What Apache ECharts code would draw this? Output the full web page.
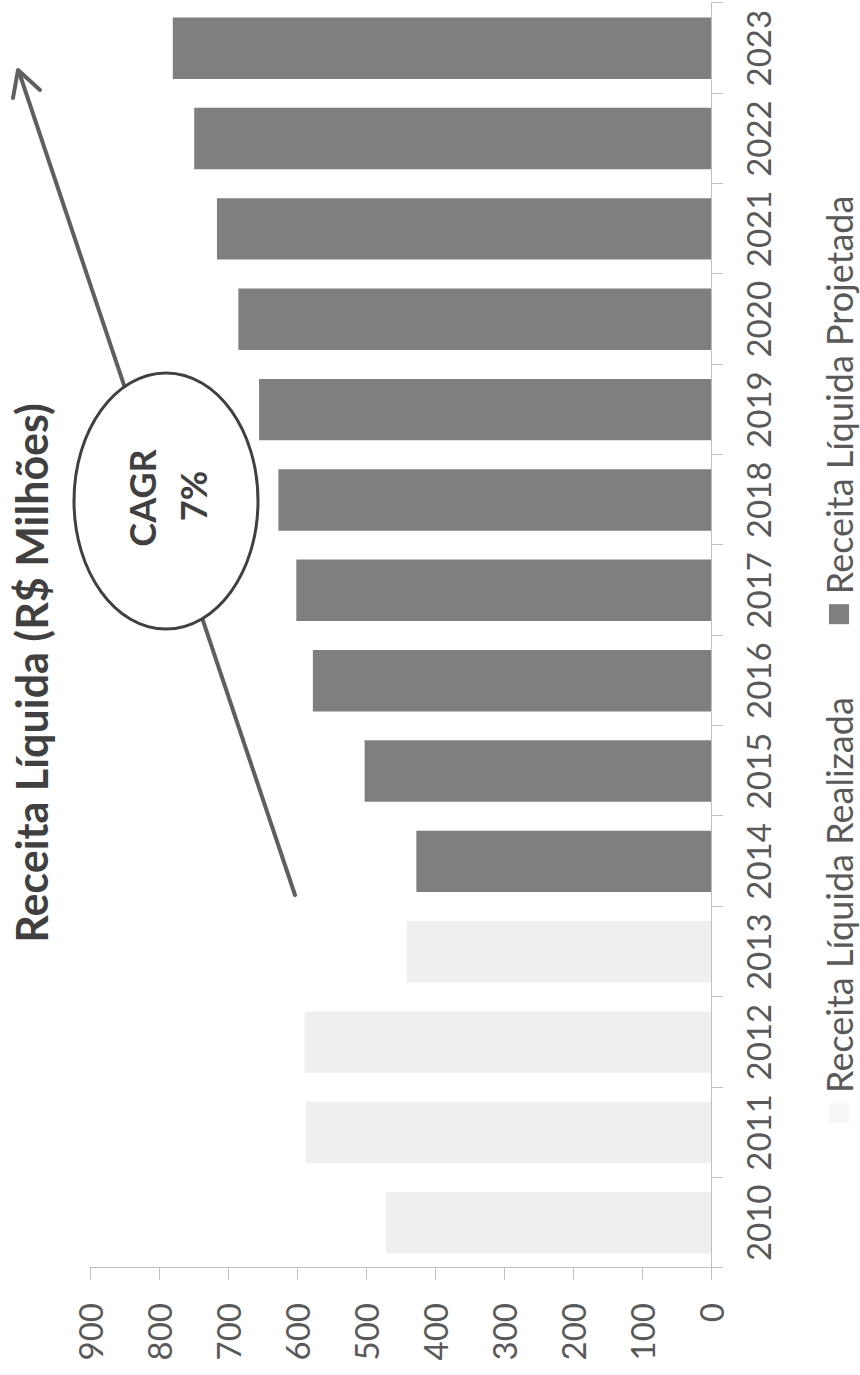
<!DOCTYPE html>
<html>
<head>
<meta charset="utf-8">
<script src="https://cdn.jsdelivr.net/npm/echarts@6/dist/echarts.min.js"></script>
<style>
  html, body { margin: 0; padding: 0; background: #ffffff; }
  #wrap { position: relative; width: 860px; height: 1375px; overflow: hidden; background: #fff; }
  #chart { position: absolute; left: 0; top: 0; width: 1375px; height: 860px;
           transform-origin: 0 0; transform: translate(0px, 1375px) rotate(-90deg); }
</style>
</head>
<body>
<div id="wrap"><div id="chart"></div></div>
<script>
// ---- data ----
const categories = ['2010','2011','2012','2013','2014','2015','2016','2017','2018','2019','2020','2021','2022','2023'];
const realizada  = [471, 587, 589, 441, null, null, null, null, null, null, null, null, null, null];
const projetada  = [null, null, null, null, 427, 502, 577, 601, 627, 655, 685, 716, 749, 780];
const seriesNames = ['Receita Líquida Realizada', 'Receita Líquida Projetada'];
const titleText = 'Receita Líquida (R$ Milhões)';
const cagrLines = ['CAGR', '7%'];
const valueMin = 0, valueMax = 900, valueStep = 100;

const FONT = 'Lato, "Open Sans", sans-serif';
const chart = echarts.init(document.getElementById('chart'), null, { renderer: 'svg' });

chart.setOption({
  animation: false,
  backgroundColor: '#ffffff',
  grid: { left: 107, right: 3, top: 90, bottom: 149, containLabel: false, outerBoundsMode: 'none' },
  legend: {
    data: [
      { name: seriesNames[0], itemStyle: { color: '#f8f8f8' } },
      { name: seriesNames[1] }
    ],
    left: 247, top: 816,
    icon: 'rect', itemWidth: 20, itemHeight: 20, itemGap: 73,
    textStyle: { fontFamily: FONT, fontSize: 36, color: '#595959', padding: [0, 0, 0, 5] }
  },
  xAxis: {
    type: 'category',
    data: categories,
    boundaryGap: true,
    axisLine: { show: true, lineStyle: { color: '#bfbfbf', width: 1 } },
    axisTick: { show: true, alignWithLabel: false, length: 12, lineStyle: { color: '#bfbfbf' } },
    axisLabel: { margin: 30, fontFamily: FONT, fontSize: 33, color: '#595959', interval: 0 },
    splitLine: { show: false }
  },
  yAxis: {
    type: 'value',
    min: valueMin, max: valueMax, interval: valueStep,
    axisLine: { show: true, lineStyle: { color: '#bfbfbf', width: 1 } },
    axisTick: { show: true, length: 12, lineStyle: { color: '#bfbfbf' } },
    axisLabel: { margin: 35, fontFamily: FONT, fontSize: 33, color: '#595959' },
    splitLine: { show: false }
  },
  series: [
    { name: seriesNames[0], type: 'bar', stack: 'receita', data: realizada,
      barCategoryGap: '32%', itemStyle: { color: '#efefef' } },
    { name: seriesNames[1], type: 'bar', stack: 'receita', data: projetada,
      barCategoryGap: '32%', itemStyle: { color: '#7f7f7f' } }
  ],
  graphic: [
    { type: 'text', z: 12, x: 702, y: 31,
      style: { text: titleText, font: 'bold 43px ' + FONT, fill: '#404040', align: 'center', verticalAlign: 'middle' } },
    { type: 'line', z: 10, shape: { x1: 480, y1: 295, x2: 1303, y2: 19 },
      style: { stroke: '#5f5f5f', lineWidth: 4, lineCap: 'round' } },
    { type: 'polyline', z: 10, shape: { points: [[1277, 13], [1305, 18], [1285, 40]] },
      style: { stroke: '#5f5f5f', lineWidth: 4, lineCap: 'round', lineJoin: 'round', fill: null } },
    { type: 'ellipse', z: 11, shape: { cx: 874, cy: 166, rx: 128, ry: 92 },
      style: { fill: '#ffffff', stroke: '#404040', lineWidth: 3 } },
    { type: 'text', z: 12, x: 877, y: 142,
      style: { text: cagrLines[0], font: 'bold 36px ' + FONT, fill: '#404040', align: 'center', verticalAlign: 'middle' } },
    { type: 'text', z: 12, x: 879, y: 193,
      style: { text: cagrLines[1], font: 'bold 36px ' + FONT, fill: '#404040', align: 'center', verticalAlign: 'middle' } }
  ]
});
</script>
</body>
</html>
